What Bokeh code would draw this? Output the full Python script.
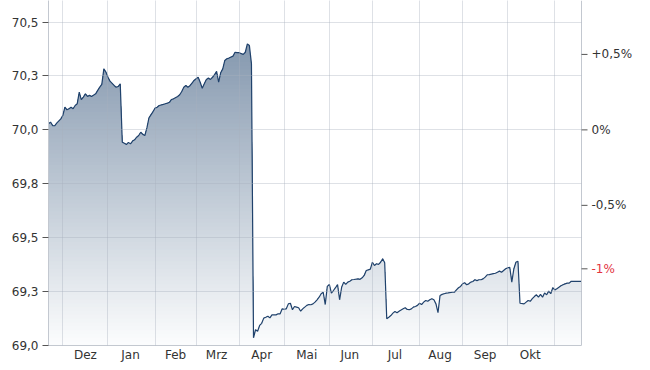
import numpy as np
from bokeh.plotting import figure
from bokeh.models import FixedTicker, Range1d
from bokeh.core.properties import value
from bokeh.embed import file_html
from bokeh.resources import INLINE

# ---------------- data ----------------
dates = [
    "2024-11-21", "2024-11-22", "2024-11-25", "2024-11-26", "2024-11-27", "2024-11-29",
    "2024-12-02", "2024-12-03", "2024-12-04", "2024-12-05", "2024-12-06", "2024-12-09",
    "2024-12-10", "2024-12-11", "2024-12-12", "2024-12-13", "2024-12-16", "2024-12-17",
    "2024-12-18", "2024-12-19", "2024-12-20", "2024-12-24", "2024-12-25", "2024-12-26",
    "2024-12-27", "2024-12-30", "2024-12-31",
    "2025-01-01", "2025-01-02", "2025-01-06", "2025-01-07", "2025-01-08", "2025-01-09",
    "2025-01-10", "2025-01-13", "2025-01-14", "2025-01-15", "2025-01-16", "2025-01-17",
    "2025-01-20", "2025-01-21", "2025-01-22", "2025-01-23", "2025-01-24", "2025-01-27",
    "2025-01-28", "2025-01-29", "2025-01-31",
    "2025-02-03", "2025-02-04", "2025-02-05", "2025-02-07", "2025-02-10", "2025-02-11",
    "2025-02-12", "2025-02-13", "2025-02-14", "2025-02-18", "2025-02-19", "2025-02-20",
    "2025-02-21", "2025-02-24", "2025-02-25", "2025-02-26", "2025-02-27", "2025-02-28",
    "2025-03-03", "2025-03-04", "2025-03-05", "2025-03-06", "2025-03-07", "2025-03-10",
    "2025-03-11", "2025-03-12", "2025-03-13", "2025-03-14", "2025-03-17", "2025-03-18",
    "2025-03-19", "2025-03-20", "2025-03-21", "2025-03-24", "2025-03-25", "2025-03-27",
    "2025-03-28", "2025-03-31",
    "2025-04-01", "2025-04-03", "2025-04-04", "2025-04-07", "2025-04-08", "2025-04-09",
    "2025-04-10", "2025-04-11", "2025-04-14", "2025-04-15", "2025-04-16", "2025-04-17",
    "2025-04-18", "2025-04-21", "2025-04-22", "2025-04-23", "2025-04-25", "2025-04-28",
    "2025-04-29", "2025-04-30",
    "2025-05-01", "2025-05-02", "2025-05-05", "2025-05-06", "2025-05-07", "2025-05-08",
    "2025-05-09", "2025-05-12", "2025-05-13", "2025-05-14", "2025-05-16", "2025-05-19",
    "2025-05-20", "2025-05-21", "2025-05-22", "2025-05-23", "2025-05-26", "2025-05-27",
    "2025-05-28", "2025-05-29", "2025-05-30",
    "2025-06-02", "2025-06-03", "2025-06-04", "2025-06-05", "2025-06-06", "2025-06-09",
    "2025-06-10", "2025-06-11", "2025-06-12", "2025-06-13", "2025-06-16", "2025-06-17",
    "2025-06-18", "2025-06-20", "2025-06-23", "2025-06-24", "2025-06-25", "2025-06-26",
    "2025-06-27", "2025-06-30",
    "2025-07-01", "2025-07-02", "2025-07-03", "2025-07-04", "2025-07-07", "2025-07-08",
    "2025-07-09", "2025-07-10", "2025-07-11", "2025-07-14", "2025-07-15", "2025-07-16",
    "2025-07-17", "2025-07-18", "2025-07-22", "2025-07-23", "2025-07-24", "2025-07-25",
    "2025-07-28", "2025-07-29", "2025-07-30", "2025-07-31",
    "2025-08-01", "2025-08-04", "2025-08-05", "2025-08-06", "2025-08-07", "2025-08-08",
    "2025-08-11", "2025-08-12", "2025-08-13", "2025-08-14", "2025-08-15", "2025-08-18",
    "2025-08-19", "2025-08-20", "2025-08-21", "2025-08-25", "2025-08-26", "2025-08-27",
    "2025-08-28", "2025-08-29",
    "2025-09-01", "2025-09-02", "2025-09-03", "2025-09-04", "2025-09-05", "2025-09-08",
    "2025-09-09", "2025-09-10", "2025-09-11", "2025-09-12", "2025-09-15", "2025-09-16",
    "2025-09-17", "2025-09-18", "2025-09-22", "2025-09-23", "2025-09-24", "2025-09-25",
    "2025-09-26", "2025-09-29", "2025-09-30",
    "2025-10-01", "2025-10-02", "2025-10-03", "2025-10-06", "2025-10-07", "2025-10-08",
    "2025-10-09", "2025-10-13", "2025-10-14", "2025-10-15", "2025-10-16", "2025-10-17",
    "2025-10-20", "2025-10-21", "2025-10-22", "2025-10-23", "2025-10-24", "2025-10-27",
    "2025-10-28", "2025-10-29", "2025-10-30", "2025-10-31",
    "2025-11-03", "2025-11-04", "2025-11-05", "2025-11-06", "2025-11-07", "2025-11-10",
    "2025-11-11", "2025-11-12", "2025-11-13", "2025-11-14", "2025-11-18", "2025-11-20",
]

prices = [
    70.028, 70.036, 70.020, 70.019, 70.031, 70.051,
    70.067, 70.105, 70.093, 70.098, 70.105, 70.098,
    70.113, 70.121, 70.175, 70.140, 70.152, 70.167,
    70.155, 70.160, 70.155, 70.167, 70.183, 70.198,
    70.211, 70.283, 70.268,
    70.244, 70.226, 70.206, 70.198, 70.201, 70.214,
    69.943, 69.938, 69.932, 69.942, 69.935, 69.948,
    69.954, 69.966, 69.974, 69.989, 69.979, 69.974,
    70.009, 70.056, 70.085,
    70.101, 70.105, 70.113, 70.118, 70.121, 70.124,
    70.128, 70.141, 70.144, 70.155, 70.163, 70.178,
    70.198, 70.206, 70.198, 70.205, 70.217, 70.229,
    70.237, 70.244, 70.221, 70.193, 70.214, 70.234,
    70.240, 70.234, 70.244, 70.256, 70.271, 70.221,
    70.265, 70.283, 70.322, 70.330, 70.333, 70.342,
    70.360, 70.358,
    70.358, 70.350, 70.360, 70.399, 70.391, 70.307,
    69.036, 69.073, 69.066, 69.093, 69.103, 69.127,
    69.131, 69.136, 69.128, 69.142, 69.142, 69.147,
    69.147, 69.170,
    69.168, 69.170, 69.193, 69.196, 69.166, 69.181,
    69.178, 69.175, 69.159, 69.170, 69.186, 69.190,
    69.189, 69.193, 69.201, 69.212, 69.224, 69.240,
    69.247, 69.190, 69.274,
    69.283, 69.243, 69.255, 69.268, 69.282, 69.212,
    69.270, 69.294, 69.283, 69.294, 69.298, 69.305,
    69.306, 69.309, 69.307, 69.314, 69.325, 69.348,
    69.351, 69.354,
    69.386, 69.371, 69.379, 69.376, 69.386, 69.402,
    69.384, 69.124, 69.131, 69.139, 69.150, 69.158,
    69.152, 69.159, 69.170, 69.175, 69.167, 69.166,
    69.170, 69.178, 69.181, 69.186,
    69.196, 69.190, 69.201, 69.209, 69.205, 69.212,
    69.217, 69.212, 69.193, 69.152, 69.232, 69.237,
    69.240, 69.243, 69.244, 69.247, 69.247, 69.258,
    69.268, 69.274,
    69.286, 69.291, 69.282, 69.286, 69.294, 69.297,
    69.305, 69.301, 69.305, 69.305, 69.309, 69.317,
    69.328, 69.329, 69.333, 69.335, 69.340, 69.345,
    69.340, 69.348, 69.356,
    69.360, 69.363, 69.294, 69.355, 69.386, 69.391,
    69.196, 69.193, 69.201, 69.209, 69.205, 69.217,
    69.227, 69.235, 69.224, 69.237, 69.224, 69.244,
    69.235, 69.252, 69.240, 69.268,
    69.258, 69.263, 69.270, 69.277, 69.282, 69.286,
    69.289, 69.289, 69.298, 69.297, 69.297, 69.297,
]

period_start = "2024-11-21"
period_end = "2025-11-20"

month_starts = ["2024-12-01", "2025-01-01", "2025-02-01", "2025-03-01", "2025-04-01",
                "2025-05-01", "2025-06-01", "2025-07-01", "2025-08-01", "2025-09-01",
                "2025-10-01", "2025-11-01"]
month_labels = ["Dez", "Jan", "Feb", "Mrz", "Apr", "Mai", "Jun", "Jul", "Aug", "Sep", "Okt"]

y_ticks = [69.0, 69.25, 69.5, 69.75, 70.0, 70.25, 70.5]
y_tick_labels = ["69,0", "69,3", "69,5", "69,8", "70,0", "70,3", "70,5"]

base_price = 70.0
pct_ticks = [0.5, 0.0, -0.5]
pct_labels = ["+0,5%", "0%", "-0,5%"]
current_pct = -1.0
current_pct_label = "-1%"

# ---------------- scales / layout ----------------
start = np.datetime64(period_start)
x = np.busday_count(start, np.array(dates, dtype="datetime64[D]"))
x_end = int(np.busday_count(start, np.datetime64(period_end)))
y = np.array(prices)

ms = np.busday_offset(np.array(month_starts, dtype="datetime64[D]"), 0, roll="forward")
grid_x = [int(v) for v in np.busday_count(start, ms)]
label_x = [int(np.floor((a + b) / 2)) for a, b in zip(grid_x[:-1], grid_x[1:])]

W, H = 650, 370
LEFT, BOTTOM = 48, 25
PLOT_W = 533                     # width of the chart area proper
FRAME_H = H - BOTTOM
px_per_x = PLOT_W / x_end
x_max = (W - LEFT) / px_per_x    # frame extends into the right margin for the % scale

Y0, Y1 = 69.0, 70.6
px_per_y = FRAME_H / (Y1 - Y0)

FONT = "DejaVu Sans"
TXT = "#333333"
AXIS = "#c3c8d0"
TICK = "#555555"
RED = "#e3343f"

p = figure(width=W, height=H, x_range=Range1d(0, x_max), y_range=Range1d(Y0, Y1),
           output_backend="svg", toolbar_location=None,
           min_border_left=LEFT, min_border_right=0, min_border_top=0,
           min_border_bottom=BOTTOM)
p.outline_line_color = None
p.background_fill_color = "white"
p.border_fill_color = "white"

# gradient fill built from stacked bands
top_c = np.array([116, 138, 163])
bot_c = np.array([252, 253, 254])
N = 90
edges = np.linspace(Y0, Y1, N + 1)
for k in reversed(range(N)):
    hi = edges[k + 1]
    if hi - (Y1 - Y0) / N > y.max():
        continue
    mid = (edges[k] + edges[k + 1]) / 2
    f = (Y1 - mid) / (Y1 - Y0)
    c = top_c + (bot_c - top_c) * f
    col = "#%02x%02x%02x" % tuple(int(round(v)) for v in c)
    p.varea(x=x, y1=Y0, y2=np.minimum(y, hi), fill_color=col, fill_alpha=1.0)

p.line(x, y, line_color="#20426c", line_width=1.2)

# grid (drawn over the fill, semi-transparent)
p.xgrid.ticker = FixedTicker(ticks=grid_x)
p.ygrid.ticker = FixedTicker(ticks=y_ticks)
for g in (p.xgrid[0], p.ygrid[0]):
    g.grid_line_color = "#a7b1be"
    g.grid_line_alpha = 0.38
    g.level = "guide"
try:
    p.ygrid[0].cross_bounds = (0, x_end)
except Exception:
    p.ygrid[0].visible = False
    p.segment(x0=0, x1=x_end, y0=y_ticks, y1=y_ticks, line_color="#a7b1be", line_alpha=0.38)

# x axis
xa = p.xaxis[0]
xa.bounds = (0, x_end)
xa.ticker = FixedTicker(ticks=label_x)
xa.major_label_overrides = {lx: lab for lx, lab in zip(label_x, month_labels)}
xa.major_tick_out = 0
xa.major_tick_in = 0
xa.major_tick_line_color = None
xa.minor_tick_line_color = None
xa.axis_line_color = AXIS
xa.major_label_text_font = FONT
xa.major_label_text_font_size = "12px"
xa.major_label_text_color = TXT
xa.major_label_standoff = 2

# left axis
ya = p.yaxis[0]
ya.ticker = FixedTicker(ticks=y_ticks)
ya.major_label_overrides = {t: l for t, l in zip(y_ticks, y_tick_labels)}
ya.axis_line_color = AXIS
ya.major_tick_line_color = TICK
ya.major_tick_out = 6
ya.major_tick_in = 0
ya.minor_tick_line_color = None
ya.major_label_text_font = FONT
ya.major_label_text_font_size = "12px"
ya.major_label_text_color = TXT
ya.major_label_standoff = 4

# right-hand percent scale (relative to base price)
pct_pos = [base_price * (1 + v / 100.0) for v in pct_ticks]
cur_pos = base_price * (1 + current_pct / 100.0) + 12 / px_per_y
r_pos = pct_pos + [cur_pos]
r_txt = pct_labels + [current_pct_label]
r_col = [TXT] * len(pct_labels) + [RED]

p.segment(x0=[x_end], x1=[x_end], y0=[Y0], y1=[Y1], line_color=AXIS, line_width=1)
p.segment(x0=[x_end] * len(r_pos), x1=[x_end + 6 / px_per_x] * len(r_pos),
          y0=r_pos, y1=r_pos, line_color=TICK, line_width=1)
p.text(x=[x_end] * len(r_pos), y=r_pos, text=r_txt, text_color=r_col,
       x_offset=10, text_baseline="middle", text_align="left",
       text_font=value(FONT), text_font_size=value("12px"))

open("out.html", "w").write(file_html(p, INLINE))
